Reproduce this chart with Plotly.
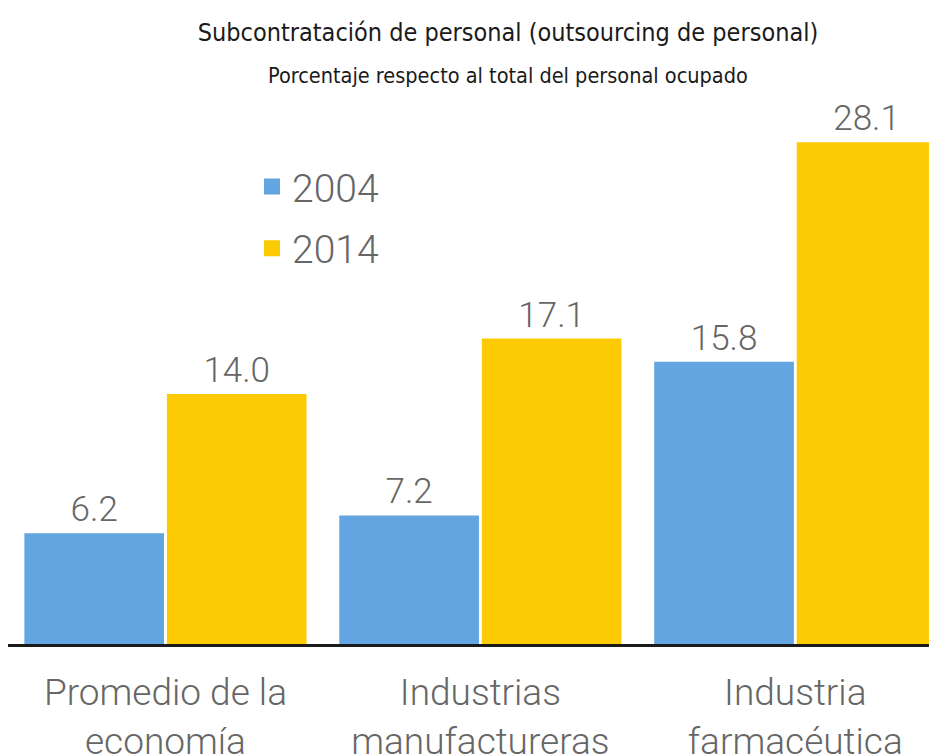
import plotly.graph_objects as go

categories = ["Promedio de la<br>economía", "Industrias<br>manufactureras", "Industria<br>farmacéutica"]
values_2004 = [6.2, 7.2, 15.8]
values_2014 = [14.0, 17.1, 28.1]
series_names = ["2004", "2014"]
colors = ["#62A5E0", "#FDCB05"]

label_font = dict(family="Roboto", size=35, color="#666666", weight=300)
tick_font = dict(family="Roboto", size=37, color="#666666", weight=300)
title_family = "DejaVu Sans Condensed, Roboto Condensed, Liberation Sans Narrow, sans-serif"

fig = go.Figure()
for name, vals, col in zip(series_names, [values_2004, values_2014], colors):
    fig.add_trace(go.Bar(
        x=categories, y=vals, name=name, showlegend=False,
        marker=dict(color=col, line=dict(width=0)),
        text=[f"{v:.1f}" for v in vals], textposition="outside",
        textfont=label_font, cliponaxis=False,
    ))
    fig.add_trace(go.Scatter(
        x=[None], y=[None], mode="markers", name=name, legendgroup=name,
        marker=dict(symbol="square", size=24, color=col),
    ))

fig.update_layout(
    width=937, height=755,
    margin=dict(l=0, r=8, t=94, b=116),
    paper_bgcolor="white", plot_bgcolor="white",
    barmode="group", bargap=0.095, bargroupgap=0.02,
    title=dict(text="Subcontratación de personal (outsourcing de personal)",
               font=dict(family=title_family, size=25, color="#1a1a1a"),
               x=500/937, xanchor="center", xref="container",
               y=1 - 24/755, yanchor="middle", yref="container"),
    annotations=[dict(text="Porcentaje respecto al total del personal ocupado",
                      xref="paper", yref="paper", x=(508-8)/929, y=(645-73)/545,
                      xanchor="center", yanchor="middle", showarrow=False,
                      font=dict(family=title_family, size=21.5, color="#1a1a1a"))],
    legend=dict(x=(252-8)/929, y=(645-153)/545, xanchor="left", yanchor="top",
                font=dict(family="Roboto", size=39, color="#666666", weight=300),
                tracegroupgap=8, bgcolor="rgba(0,0,0,0)"),
    xaxis=dict(range=[-0.5, 2.45], showgrid=False, showline=True, linecolor="#1a1a1a",
               linewidth=3, ticks="outside", ticklen=14, tickcolor="rgba(0,0,0,0)",
               tickfont=tick_font, fixedrange=True),
    yaxis=dict(range=[0, 30.35], visible=False, showgrid=False, zeroline=False),
)

fig.write_html("out.html")
